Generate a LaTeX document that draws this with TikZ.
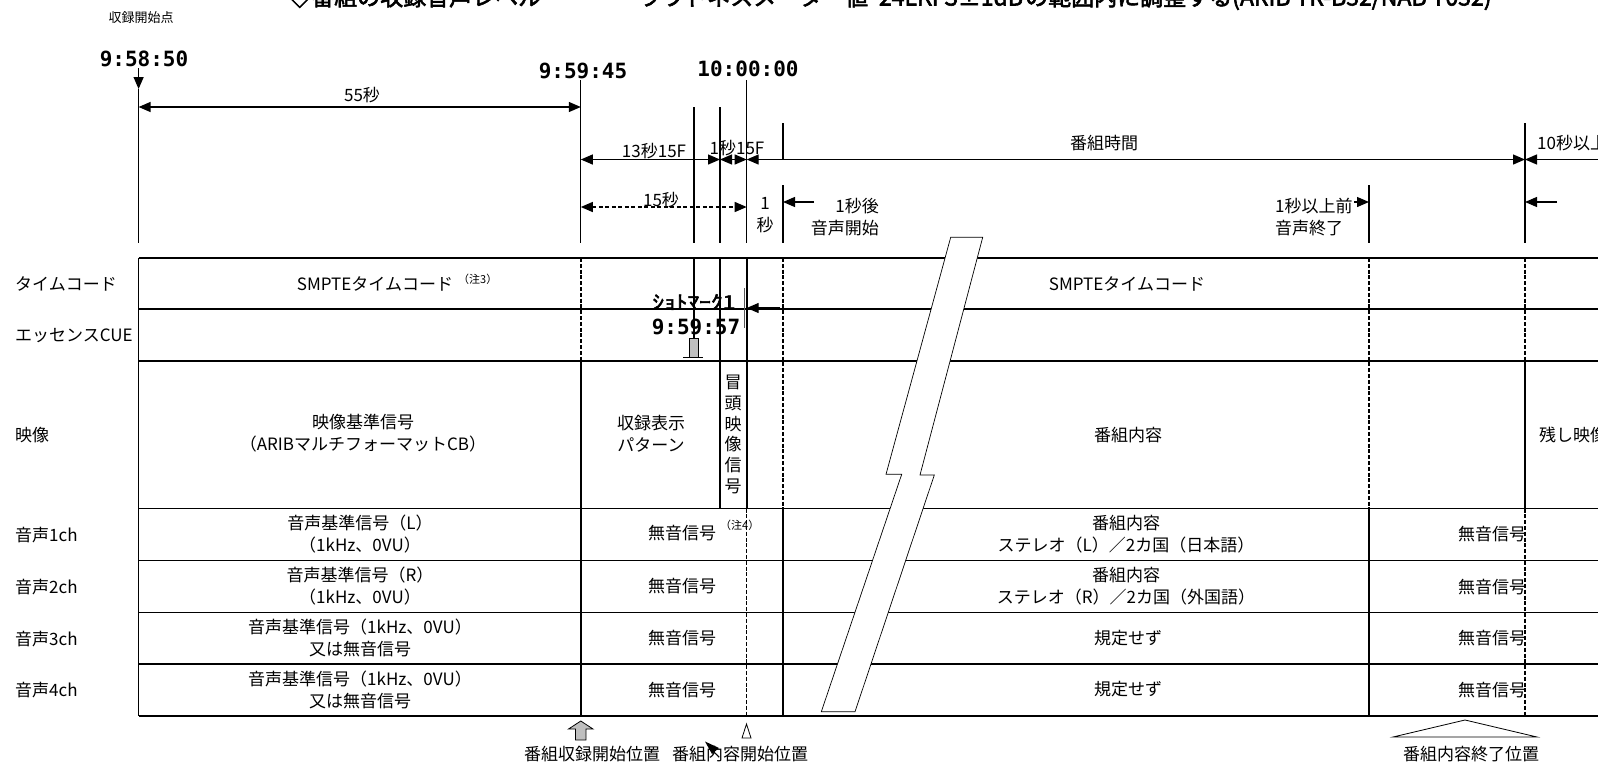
\documentclass[tikz,border=0pt]{standalone}
\usepackage{fontspec}
\setmainfont{Noto Sans CJK JP}[AutoFakeBold=2.5]
\newfontfamily\timefont{DejaVu Sans Mono}
\usetikzlibrary{arrows.meta}
\definecolor{markgray}{HTML}{BFBFBF}

\begin{document}
\begin{tikzpicture}[x=1pt, y=-1pt,
  lbl/.style={font=\fontsize{17}{22}\selectfont, inner sep=0pt, align=center},
  rowlbl/.style={font=\fontsize{17}{22}\selectfont, inner sep=0pt, anchor=west},
  note/.style={font=\fontsize{11}{12}\selectfont, inner sep=0pt},
  titlelbl/.style={font=\bfseries\fontsize{23}{26}\selectfont, inner sep=0pt, anchor=base west},
  timelbl/.style={font=\timefont\bfseries\fontsize{21}{24}\selectfont, inner sep=0pt},
  tick/.style={line width=1.3pt},
  gridline/.style={line width=1.6pt},
  dashedgrid/.style={line width=1.5pt, dash pattern=on 4pt off 1.8pt},
  dimtip/.style={line width=1.3pt, -{Triangle[length=12pt,width=10pt]}},
  dimboth/.style={line width=1.3pt, {Triangle[length=12pt,width=10pt]}-{Triangle[length=12pt,width=10pt]}}]
  \useasboundingbox (0,0) rectangle (1598,761);
  \clip (0,0) rectangle (1598,761);

  \coordinate (tA) at (138.6,0);
  \coordinate (tB) at (580.8,0);
  \coordinate (tC) at (694,0);
  \coordinate (tD) at (720,0);
  \coordinate (tE) at (746.7,0);
  \coordinate (tF) at (783,0);
  \coordinate (tG) at (1369,0);
  \coordinate (tH) at (1525,0);
  \coordinate (tR) at (1610,0);
  \coordinate (lvRec) at (0,89);
  \coordinate (lv55) at (0,107);
  \coordinate (lvProg) at (0,159.5);
  \coordinate (lv15) at (0,207);
  \coordinate (lvAud) at (0,202);

  \node[titlelbl] (ttlA) at (288,5.5) {◇番組の収録音声レベル};
  \node[titlelbl] (ttlB) at (638,5.5) {ラウドネスメーター値};
  \node[titlelbl] (ttlC) at (866,5.5) {−24LKFS±1dB};
  \node[titlelbl] (ttlD) at (1025,5.5) {の範囲内に調整する(ARIB TR-B32/NAB T032)};

  \node[font=\fontsize{13}{15}\selectfont, inner sep=0pt] (recStart) at (141,18) {収録開始点};
  \node[timelbl] (timeA) at (144,59) {9:58:50};
  \node[timelbl] (timeB) at (583,71) {9:59:45};
  \node[timelbl] (timeE) at (748,69) {10:00:00};

  \draw[dimtip] (tA|-0,68) -- (tA|-lvRec);
  \foreach \x/\y in {138.6/89, 580.8/80, 694/107, 720/107, 746.7/80, 1525/123}
    \draw[tick] (\x,\y) -- (\x,243);
  \draw[tick] (783,123) -- (783,160);
  \draw[tick] (783,185) -- (783,243);
  \draw[tick] (1369,185) -- (1369,243);

  \draw[dimboth] (tA|-lv55) -- (tB|-lv55);
  \node[lbl] (dur55) at (362,95) {55秒};
  \draw[dimboth] (tB|-lvProg) -- (tD|-lvProg);
  \node[lbl] (dur13) at (654,151) {13秒15F};
  \draw[dimboth] (tD|-lvProg) -- (tE|-lvProg);
  \node[lbl] (dur1F) at (737,148) {1秒15F};
  \draw[dimboth] (tE|-lvProg) -- (tH|-lvProg);
  \node[lbl] (durProg) at (1104,143) {番組時間};
  \draw[dimtip] (tR|-lvProg) -- (tH|-lvProg);
  \node[lbl, anchor=west] (dur10) at (1537,143) {10秒以上};
  \draw[dimboth, dash pattern=on 4pt off 2.5pt] (tB|-lv15) -- (tE|-lv15);
  \node[lbl] (dur15) at (661,200) {15秒};
  \node[lbl] (dur1) at (765,215) {1\\秒};
  \draw[dimtip] (814,202) -- (tF|-lvAud);
  \node[lbl, align=right, anchor=east] (audStart) at (879,217.5) {1秒後\\音声開始};
  \node[lbl, align=left, anchor=west] (audEnd) at (1275,217.5) {1秒以上前\\音声終了};
  \draw[dimtip] (1354,202) -- (tG|-lvAud);
  \draw[dimtip] (1557,202) -- (tH|-lvAud);

  \foreach \y in {258,309,361,508.5,560.5,612.5,664,716}
    \draw[gridline] (138.6,\y) -- (1598,\y);
  \draw[gridline] (138.6,258) -- (138.6,716);
  \draw[dashedgrid] (580.8,258) -- (580.8,361);
  \draw[gridline] (580.8,361) -- (580.8,716);
  \draw[line width=1.1pt] (694,258) -- (694,338);
  \draw[tick] (720,258) -- (720,508.5);
  \draw[gridline] (746.7,258) -- (746.7,508.5);
  \draw[dashedgrid] (746.7,508.5) -- (746.7,716);
  \draw[dashedgrid] (783,258) -- (783,508.5);
  \draw[gridline] (783,508.5) -- (783,716);
  \draw[dashedgrid] (1369,258) -- (1369,508.5);
  \draw[gridline] (1369,508.5) -- (1369,716);
  \draw[dashedgrid] (1525,258) -- (1525,361);
  \draw[gridline] (1525,361) -- (1525,508.5);
  \draw[dashedgrid] (1525,508.5) -- (1525,716);

  \draw[line width=0.7pt, fill=white] (950.7,237.3) -- (982.7,237.3) -- (920,475) -- (934.3,475)
    -- (855,711.7) -- (821.3,711.7) -- (901.7,474.3) -- (886,474.3) -- cycle;

  \node[rowlbl] (rowTC) at (15,284) {タイムコード};
  \node[rowlbl] (rowCUE) at (15,336) {エッセンスCUE};
  \node[rowlbl] (rowVid) at (15,435) {映像};
  \node[rowlbl] (rowA1) at (15,535) {音声1ch};
  \node[rowlbl] (rowA2) at (15,587) {音声2ch};
  \node[rowlbl] (rowA3) at (15,639) {音声3ch};
  \node[rowlbl] (rowA4) at (15,690) {音声4ch};

  \node[lbl] (tcRef) at (375,284) {SMPTEタイムコード};
  \node[note, anchor=west] (tcNote) at (458,279) {（注3）};
  \node[lbl] (vidRef) at (363,433) {映像基準信号\\（ARIBマルチフォーマットCB）};
  \node[lbl] (a1Ref) at (360,534) {音声基準信号（L）\\（1kHz、0VU）};
  \node[lbl] (a2Ref) at (360,586) {音声基準信号（R）\\（1kHz、0VU）};
  \node[lbl] (a3Ref) at (360,638) {音声基準信号（1kHz、0VU）\\又は無音信号};
  \node[lbl] (a4Ref) at (360,690) {音声基準信号（1kHz、0VU）\\又は無音信号};

  \node[lbl] (vidRec) at (651,434) {収録表示\\パターン};
  \node[font=\fontsize{17}{20.8}\selectfont, inner sep=0pt, align=center] (vidHead) at (733,434.5) {冒\\頭\\映\\像\\信\\号};
  \node[lbl] (a1Mute) at (682,533) {無音信号};
  \node[note, anchor=west] (a1Note) at (720,525) {（注4）};
  \node[lbl] (a2Mute) at (682,586) {無音信号};
  \node[lbl] (a3Mute) at (682,638) {無音信号};
  \node[lbl] (a4Mute) at (682,690) {無音信号};

  \node[font=\bfseries\fontsize{18}{20}\selectfont, inner sep=0pt] (shotMark) at (694,302) {\scalebox{1.3}[1.05]{ｼｮﾄﾏｰｸ1}};
  \node[timelbl] (timeShot) at (696,327) {9:59:57};
  \draw[line width=1.6pt, black!65] (744.5,288) -- (744.5,328);
  \draw[dimtip] (780,308) -- (tE|-0,308);
  \draw[fill=markgray, line width=0.8pt] (689,338) rectangle (698,357);
  \draw[line width=1.3pt] (683,357.5) -- (703,357.5);

  \node[lbl] (tcProg) at (1127,284) {SMPTEタイムコード};
  \node[lbl] (vidProg) at (1128,435) {番組内容};
  \node[lbl] (a1Prog) at (1126,534) {番組内容\\ステレオ（L）／2カ国（日本語）};
  \node[lbl] (a2Prog) at (1126,586) {番組内容\\ステレオ（R）／2カ国（外国語）};
  \node[lbl] (a3Prog) at (1128,638) {規定せず};
  \node[lbl] (a4Prog) at (1128,689) {規定せず};

  \node[lbl] (a1Tail) at (1492,534) {無音信号};
  \node[lbl] (a2Tail) at (1492,587) {無音信号};
  \node[lbl] (a3Tail) at (1492,638) {無音信号};
  \node[lbl] (a4Tail) at (1492,690) {無音信号};
  \node[lbl, anchor=west] (vidTail) at (1539,435) {残し映像};

  \draw[fill=markgray, line width=0.8pt] (580.8,721) -- (593,729) -- (586,729) -- (586,740)
    -- (575.5,740) -- (575.5,729) -- (568.5,729) -- cycle;
  \draw[fill=white, line width=0.8pt] (746.5,724) -- (751,738) -- (742,738) -- cycle;
  \draw[fill=white, line width=0.8pt] (1465,720) -- (1537,737) -- (1393,737) -- cycle;
  \node[lbl] (posRec) at (592,754) {番組収録開始位置};
  \node[lbl] (posStart) at (740,754) {番組内容開始位置};
  \fill (705,741.5) -- (719,748) -- (712,754) -- cycle;
  \node[lbl] (posEnd) at (1471,754) {番組内容終了位置};
\end{tikzpicture}
\end{document}
